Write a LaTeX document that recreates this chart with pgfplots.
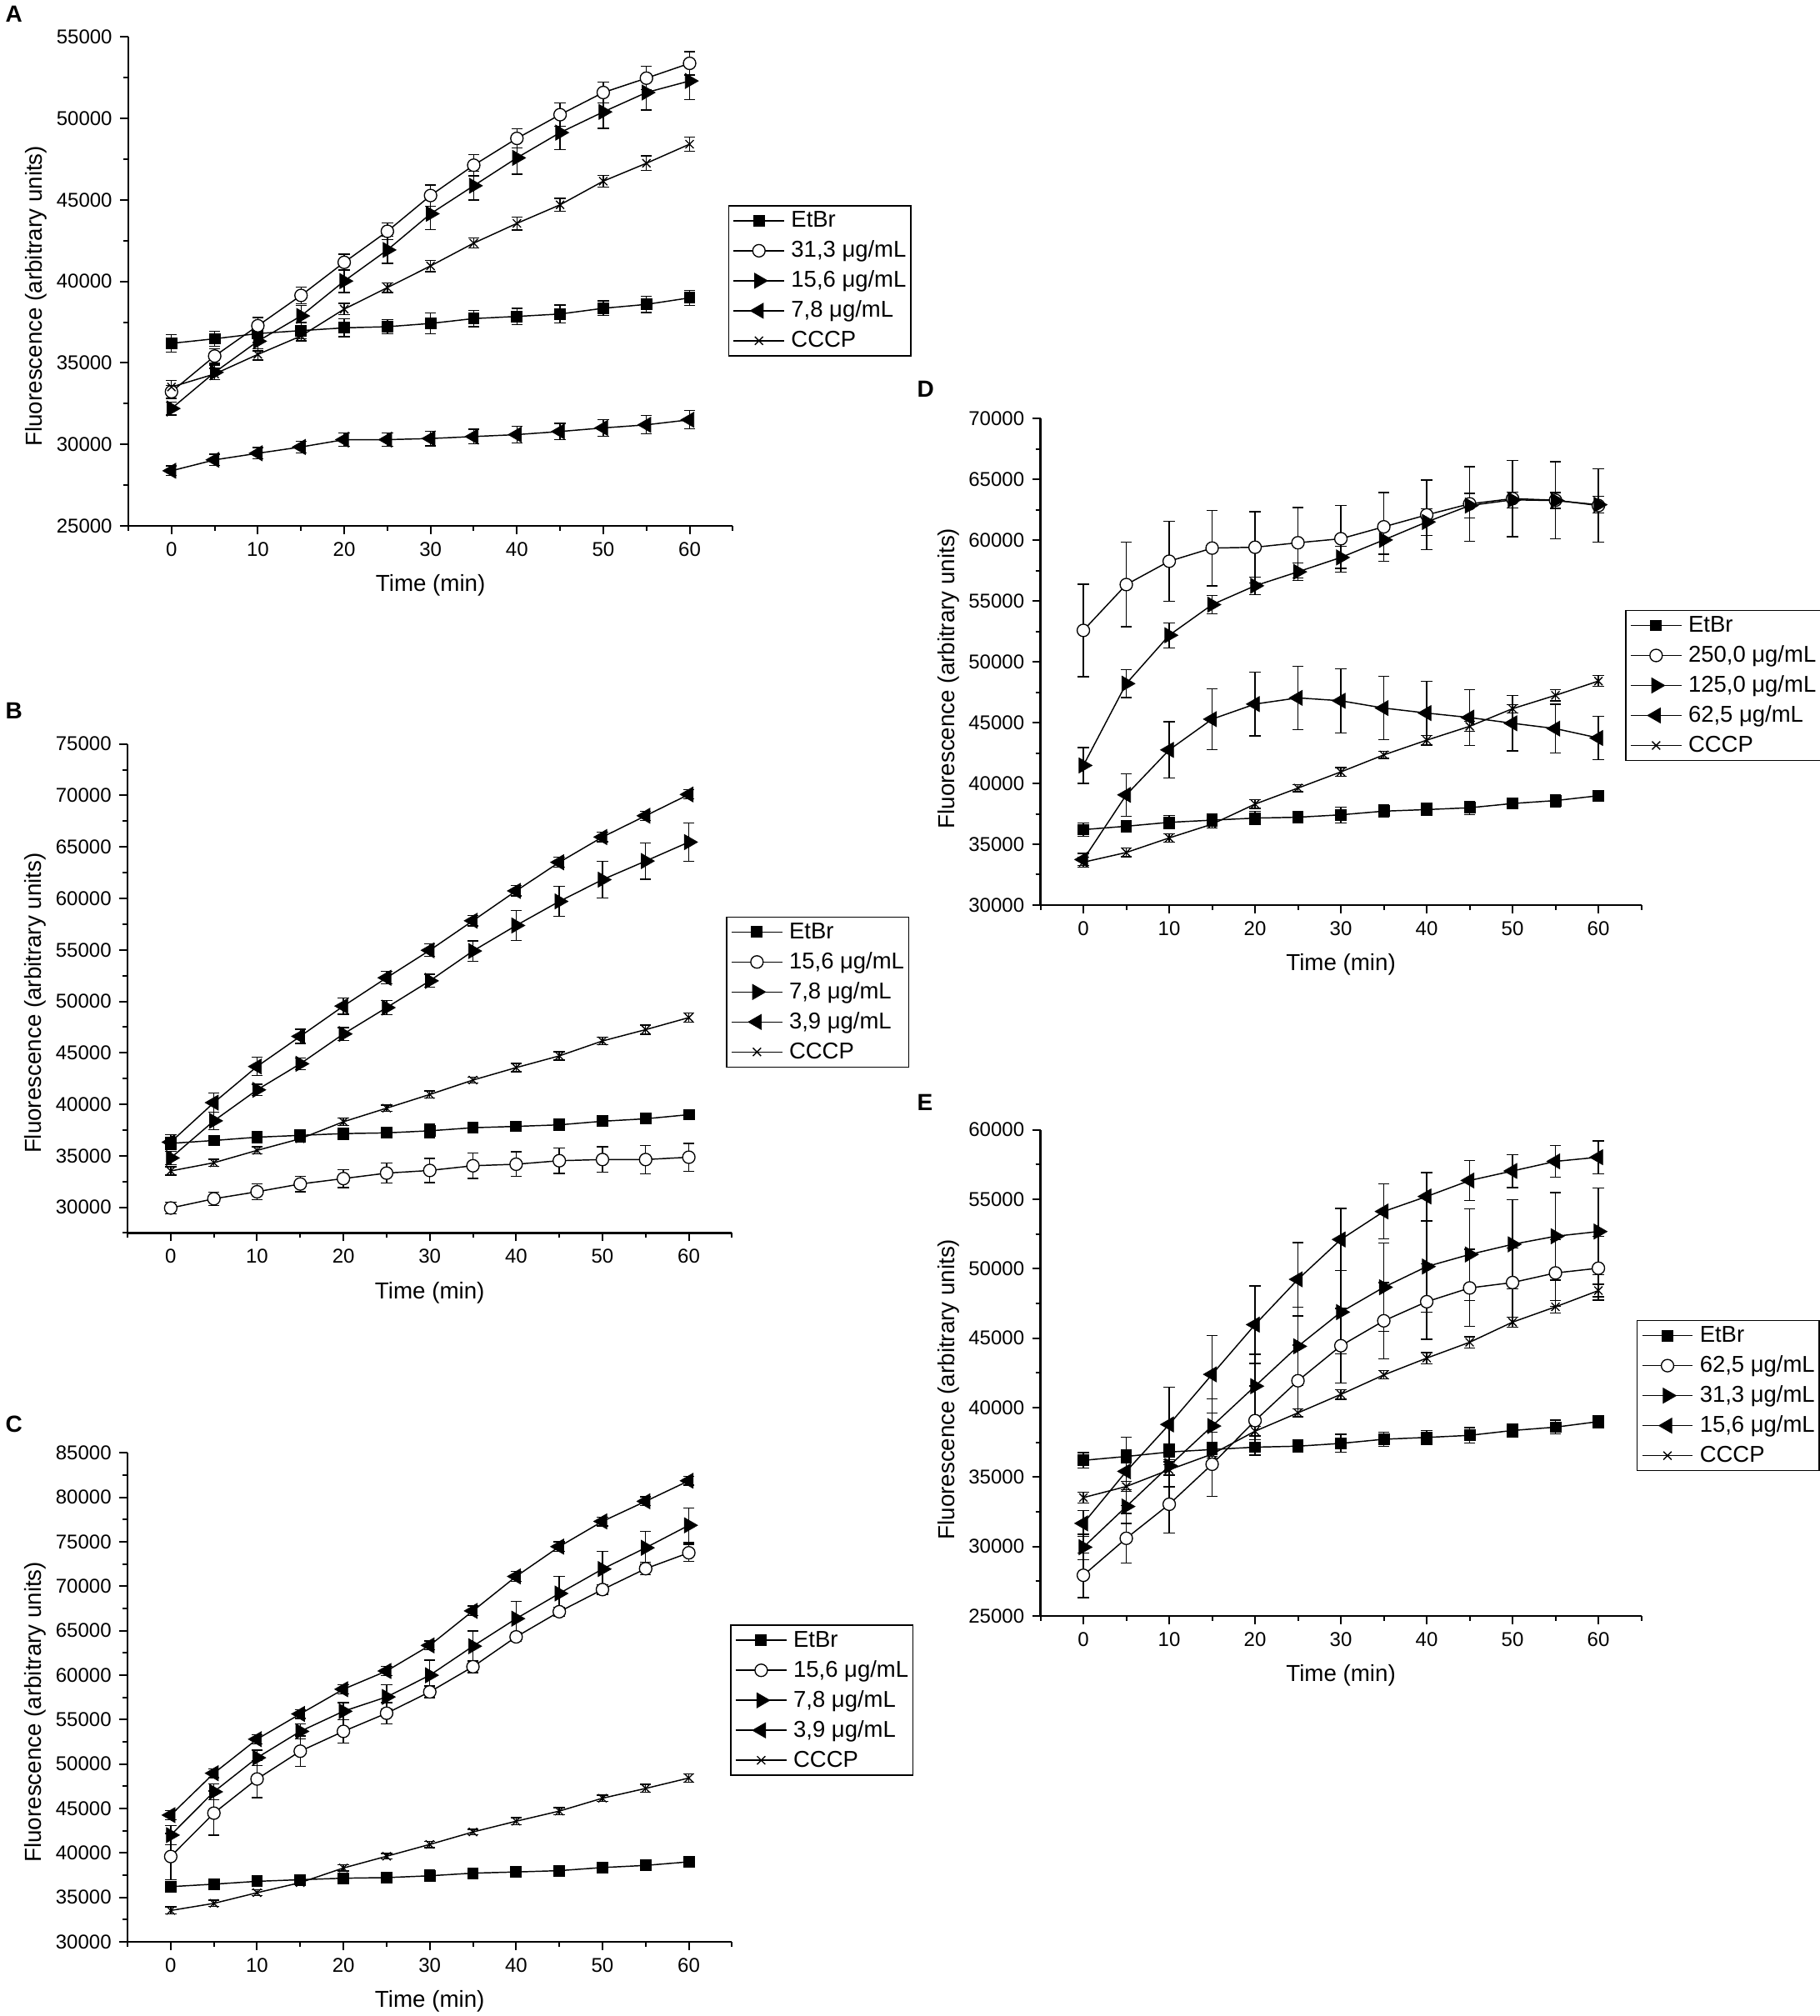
\documentclass[border=0pt]{standalone}
\usepackage{fontspec}
\setmainfont{Liberation Sans}
\usepackage{pgfplots}
\pgfplotsset{compat=1.18}
\usepackage{pgfplotstable}

\newcommand\lt[1]{\rule[-0.5pt]{0pt}{7.9pt}\smash{#1}}

\pgfplotstableread{
x y e
0 36200 550
5 36480 450
10 36800 550
15 36980 500
20 37150 550
25 37220 450
30 37420 650
35 37720 500
40 37850 500
45 38000 550
50 38350 450
55 38590 500
60 38990 450
}\EtBr
\pgfplotstableread{
x y e
0 33520 400
5 34320 350
10 35520 350
15 36650 300
20 38300 350
25 39620 300
30 40950 350
35 42350 300
40 43560 400
45 44700 400
50 46150 350
55 47250 450
60 48420 450
}\CCCP
% ---- A
\pgfplotstableread{
x y e
0 33230 400
5 35420 450
10 37280 500
15 39140 500
20 41170 500
25 43075 500
30 45270 650
35 47130 650
40 48775 600
45 50230 715
50 51590 650
55 52470 715
60 53380 715
}\Aa
\pgfplotstableread{
x y e
0 32200 400
5 34420 450
10 36330 600
15 37880 650
20 40020 700
25 41930 830
30 44150 980
35 45870 880
40 47580 1000
45 49130 1050
50 50400 1000
55 51590 1070
60 52300 1150
}\Ab
\pgfplotstableread{
x y e
0 28380 300
5 29050 350
10 29455 350
15 29840 350
20 30290 400
25 30290 400
30 30360 450
35 30480 450
40 30600 500
45 30790 500
50 31010 500
55 31200 560
60 31510 560
}\Ac
% ---- B
\pgfplotstableread{
x y e
0 29920 550
5 30820 650
10 31500 750
15 32255 750
20 32780 880
25 33310 960
30 33570 1170
35 34025 1240
40 34175 1200
45 34515 1240
50 34630 1240
55 34630 1370
60 34855 1350
}\Ba
\pgfplotstableread{
x y e
0 34780 650
5 38390 850
10 41400 550
15 43930 560
20 46830 620
25 49390 700
30 51990 640
35 54890 980
40 57370 1450
45 59710 1450
50 61820 1790
55 63630 1760
60 65470 1850
}\Bb
\pgfplotstableread{
x y e
0 36320 700
5 40160 940
10 43670 900
15 46600 700
20 49540 790
25 52290 600
30 54960 600
35 57830 500
40 60730 500
45 63510 500
50 65960 450
55 68030 450
60 70100 450
}\Bc
% ---- C
\pgfplotstableread{
x y e
0 39590 2600
5 44470 2480
10 48310 2090
15 51440 1700
20 53670 1300
25 55710 1180
30 58110 650
35 60940 650
40 64300 520
45 67130 520
50 69620 520
55 71970 700
60 73760 960
}\Ca
\pgfplotstableread{
x y e
0 42000 1090
5 46870 870
10 50700 870
15 53670 830
20 55930 960
25 57540 1350
30 59980 1700
35 63250 1700
40 66350 1920
45 69180 1920
50 71930 1960
55 74320 1870
60 76850 1960
}\Cb
\pgfplotstableread{
x y e
0 44250 500
5 48960 500
10 52790 500
15 55630 500
20 58410 500
25 60460 500
30 63340 500
35 67220 550
40 71100 550
45 74450 550
50 77290 500
55 79550 500
60 81860 500
}\Cc
% ---- D
\pgfplotstableread{
x y e
0 52590 3800
5 56360 3470
10 58280 3300
15 59360 3100
20 59430 2930
25 59800 2900
30 60130 2730
35 61110 2830
40 62090 2860
45 63000 3060
50 63430 3130
55 63300 3170
60 62860 3030
}\Da
\pgfplotstableread{
x y e
0 41480 1470
5 48210 1140
10 52190 1030
15 54710 760
20 56260 730
25 57410 730
30 58590 900
35 60030 1180
40 61510 1100
45 62860 1000
50 63330 650
55 63270 650
60 62930 700
}\Db
\pgfplotstableread{
x y e
0 33740 500
5 39060 1750
10 42760 2320
15 45290 2500
20 46530 2610
25 47040 2610
30 46800 2640
35 46200 2610
40 45790 2590
45 45420 2300
50 44950 2270
55 44510 2000
60 43740 1780
}\Dc
% ---- E
\pgfplotstableread{
x y e
0 27930 1610
5 30590 1790
10 33040 2070
15 35920 2300
20 39060 2500
25 41930 2570
30 44450 2690
35 46245 2750
40 47620 2710
45 48610 2780
50 49000 2500
55 49690 2400
60 50030 2300
}\Ea
\pgfplotstableread{
x y e
0 29950 920
5 32880 1220
10 35800 1500
15 38670 1950
20 41540 2300
25 44410 2800
30 46870 3010
35 48660 3170
40 50150 3290
45 51020 3300
50 51750 3220
55 52330 3150
60 52670 3120
}\Eb
\pgfplotstableread{
x y e
0 31665 920
5 35410 2460
10 38785 2690
15 42390 2800
20 45970 2790
25 49230 2640
30 52100 2230
35 54115 1980
40 55195 1720
45 56345 1430
50 57030 1190
55 57720 1150
60 58020 1180
}\Ec

\pgfplotsset{
  panel/.style={
    scale only axis, width=272pt, height=220pt,
    axis x line*=bottom, axis y line*=left,
    axis line style={line width=0.9pt},
    xmin=-5, xmax=65, xtick={0,10,...,60}, minor xtick={-5,5,...,65},
    tick align=outside, major tick length=3.75pt, minor tick length=2.2pt,
    tick style={line width=0.75pt, black},
    tick label style={font=\fontsize{9}{10}\selectfont},
    /pgf/number format/fixed, /pgf/number format/1000 sep={},
    /pgf/number format/assume math mode=true,
    scaled y ticks=false,
    xlabel={Time (min)}, ylabel={Fluorescence (arbitrary units)},
    label style={font=\fontsize{10.4}{12}\selectfont},
    xlabel style={at={(axis description cs:0.5,-0.122)}, anchor=center},
    ylabel style={at={(axis description cs:-0.1525,0.47)}, anchor=center},
    legend cell align=left,
    legend image code/.code={\draw[mark repeat=2,mark phase=2,##1] plot coordinates {(0pt,0pt)(11.4pt,0pt)(22.8pt,0pt)};},
    legend style={draw=black, line width=0.55pt, inner xsep=2pt, inner ysep=2.3pt,
      nodes={inner sep=0pt}, row sep=4.6pt,
      font=\fontsize{10.3}{12}\selectfont,
      /tikz/every odd column/.append style={column sep=2.85pt}},
  },
  ser/.style={black, line width=0.55pt,
    error bars/y dir=both, error bars/y explicit,
    error bars/error bar style={line width=0.5pt, solid},
    error bars/error mark options={rotate=90, line width=0.5pt, mark size=2.5pt, solid}},
  etbr/.style={ser, mark=square*, mark size=2.4pt, mark options={solid, fill=black, line width=0.4pt}},
  circ/.style={ser, mark=*, mark size=2.8pt, mark options={solid, fill=white, line width=0.5pt}},
  rtri/.style={ser, mark=triangle*, mark size=3.9pt, mark options={solid, fill=black, rotate=-90, line width=0.3pt}},
  ltri/.style={ser, mark=triangle*, mark size=3.9pt, mark options={solid, fill=black, rotate=90, line width=0.3pt}},
  cccp/.style={ser, mark=x, mark size=2.6pt, mark options={solid, line width=0.5pt}},
}

\begin{document}
\begin{tikzpicture}
\path[use as bounding box] (0,0) rectangle (819pt,907.125pt);

% ---------------- A
\begin{axis}[panel, at={(57.75pt,670.5pt)}, anchor=south west,
  ymin=25000, ymax=55000, ytick={25000,30000,...,55000}, minor ytick={27500,32500,...,52500},
  legend style={at={(axis description cs:0.992,0.656)}, anchor=north west}]
\addplot[etbr] table[x=x,y=y,y error=e]{\EtBr}; \addlegendentry{\lt{EtBr}}
\addplot[circ] table[x=x,y=y,y error=e]{\Aa}; \addlegendentry{\lt{31,3 μg/mL}}
\addplot[rtri] table[x=x,y=y,y error=e]{\Ab}; \addlegendentry{\lt{15,6 μg/mL}}
\addplot[ltri] table[x=x,y=y,y error=e]{\Ac}; \addlegendentry{\lt{7,8 μg/mL}}
\addplot[cccp] table[x=x,y=y,y error=e]{\CCCP}; \addlegendentry{\lt{CCCP}}
\end{axis}

% ---------------- B
\begin{axis}[panel, at={(57.4pt,352.35pt)}, anchor=south west,
  ymin=27500, ymax=75000, ytick={30000,35000,...,75000}, minor ytick={27500,32500,...,72500},
  legend style={at={(axis description cs:0.990,0.6475)}, anchor=north west}]
\addplot[etbr] table[x=x,y=y,y error=e]{\EtBr}; \addlegendentry{\lt{EtBr}}
\addplot[circ] table[x=x,y=y,y error=e]{\Ba}; \addlegendentry{\lt{15,6 μg/mL}}
\addplot[rtri] table[x=x,y=y,y error=e]{\Bb}; \addlegendentry{\lt{7,8 μg/mL}}
\addplot[ltri] table[x=x,y=y,y error=e]{\Bc}; \addlegendentry{\lt{3,9 μg/mL}}
\addplot[cccp] table[x=x,y=y,y error=e]{\CCCP}; \addlegendentry{\lt{CCCP}}
\end{axis}

% ---------------- C
\begin{axis}[panel, at={(57.4pt,33.4pt)}, anchor=south west,
  ymin=30000, ymax=85000, ytick={30000,35000,...,85000}, minor ytick={32500,37500,...,82500},
  legend style={at={(axis description cs:0.997,0.6485)}, anchor=north west}]
\addplot[etbr] table[x=x,y=y,y error=e]{\EtBr}; \addlegendentry{\lt{EtBr}}
\addplot[circ] table[x=x,y=y,y error=e]{\Ca}; \addlegendentry{\lt{15,6 μg/mL}}
\addplot[rtri] table[x=x,y=y,y error=e]{\Cb}; \addlegendentry{\lt{7,8 μg/mL}}
\addplot[ltri] table[x=x,y=y,y error=e]{\Cc}; \addlegendentry{\lt{3,9 μg/mL}}
\addplot[cccp] table[x=x,y=y,y error=e]{\CCCP}; \addlegendentry{\lt{CCCP}}
\end{axis}

% ---------------- D
\begin{axis}[panel, width=270.4pt, height=218.8pt, at={(468.2pt,499.9pt)}, anchor=south west,
  ymin=30000, ymax=70000, ytick={30000,35000,...,70000}, minor ytick={32500,37500,...,67500},
  ylabel style={at={(axis description cs:-0.1534,0.466)}},
  legend style={at={(axis description cs:0.973,0.607)}, anchor=north west}]
\addplot[etbr] table[x=x,y=y,y error=e]{\EtBr}; \addlegendentry{\lt{EtBr}}
\addplot[circ] table[x=x,y=y,y error=e]{\Da}; \addlegendentry{\lt{250,0 μg/mL}}
\addplot[rtri] table[x=x,y=y,y error=e]{\Db}; \addlegendentry{\lt{125,0 μg/mL}}
\addplot[ltri] table[x=x,y=y,y error=e]{\Dc}; \addlegendentry{\lt{62,5 μg/mL}}
\addplot[cccp] table[x=x,y=y,y error=e]{\CCCP}; \addlegendentry{\lt{CCCP}}
\end{axis}

% ---------------- E
\begin{axis}[panel, width=270.4pt, height=218.8pt, at={(468.2pt,180pt)}, anchor=south west,
  ymin=25000, ymax=60000, ytick={25000,30000,...,60000}, minor ytick={27500,32500,...,57500},
  ylabel style={at={(axis description cs:-0.1534,0.466)}},
  legend style={at={(axis description cs:0.992,0.6086)}, anchor=north west}]
\addplot[etbr] table[x=x,y=y,y error=e]{\EtBr}; \addlegendentry{\lt{EtBr}}
\addplot[circ] table[x=x,y=y,y error=e]{\Ea}; \addlegendentry{\lt{62,5 μg/mL}}
\addplot[rtri] table[x=x,y=y,y error=e]{\Eb}; \addlegendentry{\lt{31,3 μg/mL}}
\addplot[ltri] table[x=x,y=y,y error=e]{\Ec}; \addlegendentry{\lt{15,6 μg/mL}}
\addplot[cccp] table[x=x,y=y,y error=e]{\CCCP}; \addlegendentry{\lt{CCCP}}
\end{axis}

\begin{scope}[every node/.style={anchor=north west, inner sep=0pt, font=\fontsize{10.5}{12}\selectfont\bfseries}]
\node at (2.25pt,904.5pt) {A};
\node at (2.25pt,591pt) {B};
\node at (2.25pt,270.4pt) {C};
\node at (412.5pt,735.75pt) {D};
\node at (412.5pt,414.75pt) {E};
\end{scope}
\end{tikzpicture}
\end{document}
